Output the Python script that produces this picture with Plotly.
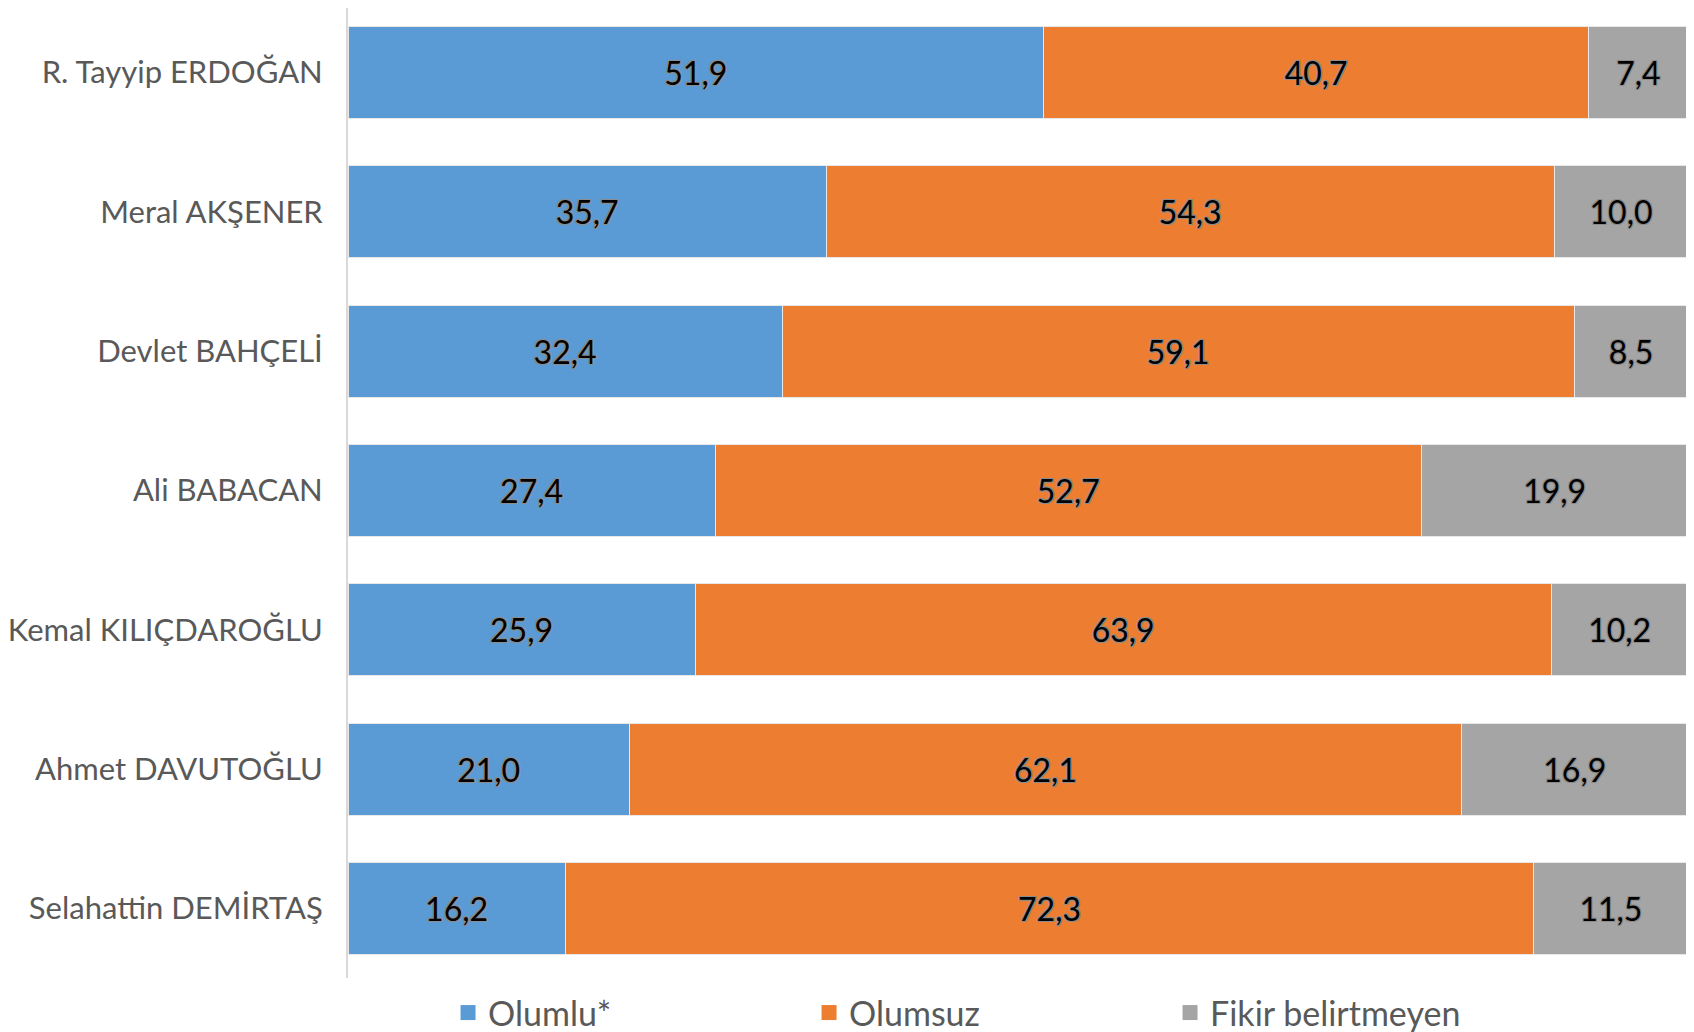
import plotly.graph_objects as go

categories = ["R. Tayyip ERDOĞAN", "Meral AKŞENER", "Devlet BAHÇELİ", "Ali BABACAN",
              "Kemal KILIÇDAROĞLU", "Ahmet DAVUTOĞLU", "Selahattin DEMİRTAŞ"]
olumlu = [51.9, 35.7, 32.4, 27.4, 25.9, 21.0, 16.2]
olumsuz = [40.7, 54.3, 59.1, 52.7, 63.9, 62.1, 72.3]
fikir = [7.4, 10.0, 8.5, 19.9, 10.2, 16.9, 11.5]
series_names = ["Olumlu*", "Olumsuz", "Fikir belirtmeyen"]
colors = ["#5B9BD5", "#ED7D31", "#A5A5A5"]

FONT = "Lato"
shadow = "-1px -1px 0 #8c8c8c, 1px -1px 0 #8c8c8c, -1px 1px 0 #8c8c8c, 1px 1px 0 #8c8c8c"

fig = go.Figure()
for name, vals, col in zip(series_names, [olumlu, olumsuz, fikir], colors):
    fig.add_trace(go.Bar(
        y=categories, x=vals, name=name, orientation="h",
        marker=dict(color=col, line=dict(color="#E8E8E8", width=1)),
        texttemplate="%{x:.1f}", textposition="inside", insidetextanchor="middle",
        textangle=0,
        textfont=dict(family=FONT, size=32, color="#000000", shadow=shadow),
        hoverinfo="skip", showlegend=False, legendgroup=name,
    ))

# legend-only entries with larger square swatches
for name, col in zip(series_names, colors):
    fig.add_trace(go.Scatter(
        x=[None], y=[None], mode="markers", name=name, legendgroup=name,
        marker=dict(symbol="square", size=15, color=col, line=dict(width=0)),
        hoverinfo="skip", showlegend=True,
    ))

fig.update_layout(
    barmode="stack",
    bargap=0.34,
    width=1686, height=1024,
    margin=dict(l=340, r=6, t=0, b=54, autoexpand=False),
    paper_bgcolor="white", plot_bgcolor="white",
    separators=",.",
    font=dict(family=FONT, color="#595959"),
    uniformtext=dict(minsize=32, mode="show"),
    xaxis=dict(range=[0, 100], showticklabels=False, showgrid=False, zeroline=False,
               showline=False, fixedrange=True, automargin=False),
    yaxis=dict(type="category", categoryorder="array", categoryarray=categories,
               range=[6.5, -0.464], showgrid=False, zeroline=False,
               showline=True, linecolor="#D9D9D9", linewidth=2,
               ticks="", ticklabelstandoff=17, automargin=False,
               tickfont=dict(family=FONT, size=31, color="#595959")),
    legend=dict(orientation="h", xref="container", yref="container",
                x=0.261, xanchor="left", y=0.0186, yanchor="middle",
                font=dict(family=FONT, size=34, color="#595959"),
                entrywidth=316, entrywidthmode="pixels", itemwidth=30,
                traceorder="normal"),
)

fig.write_html("out.html")
